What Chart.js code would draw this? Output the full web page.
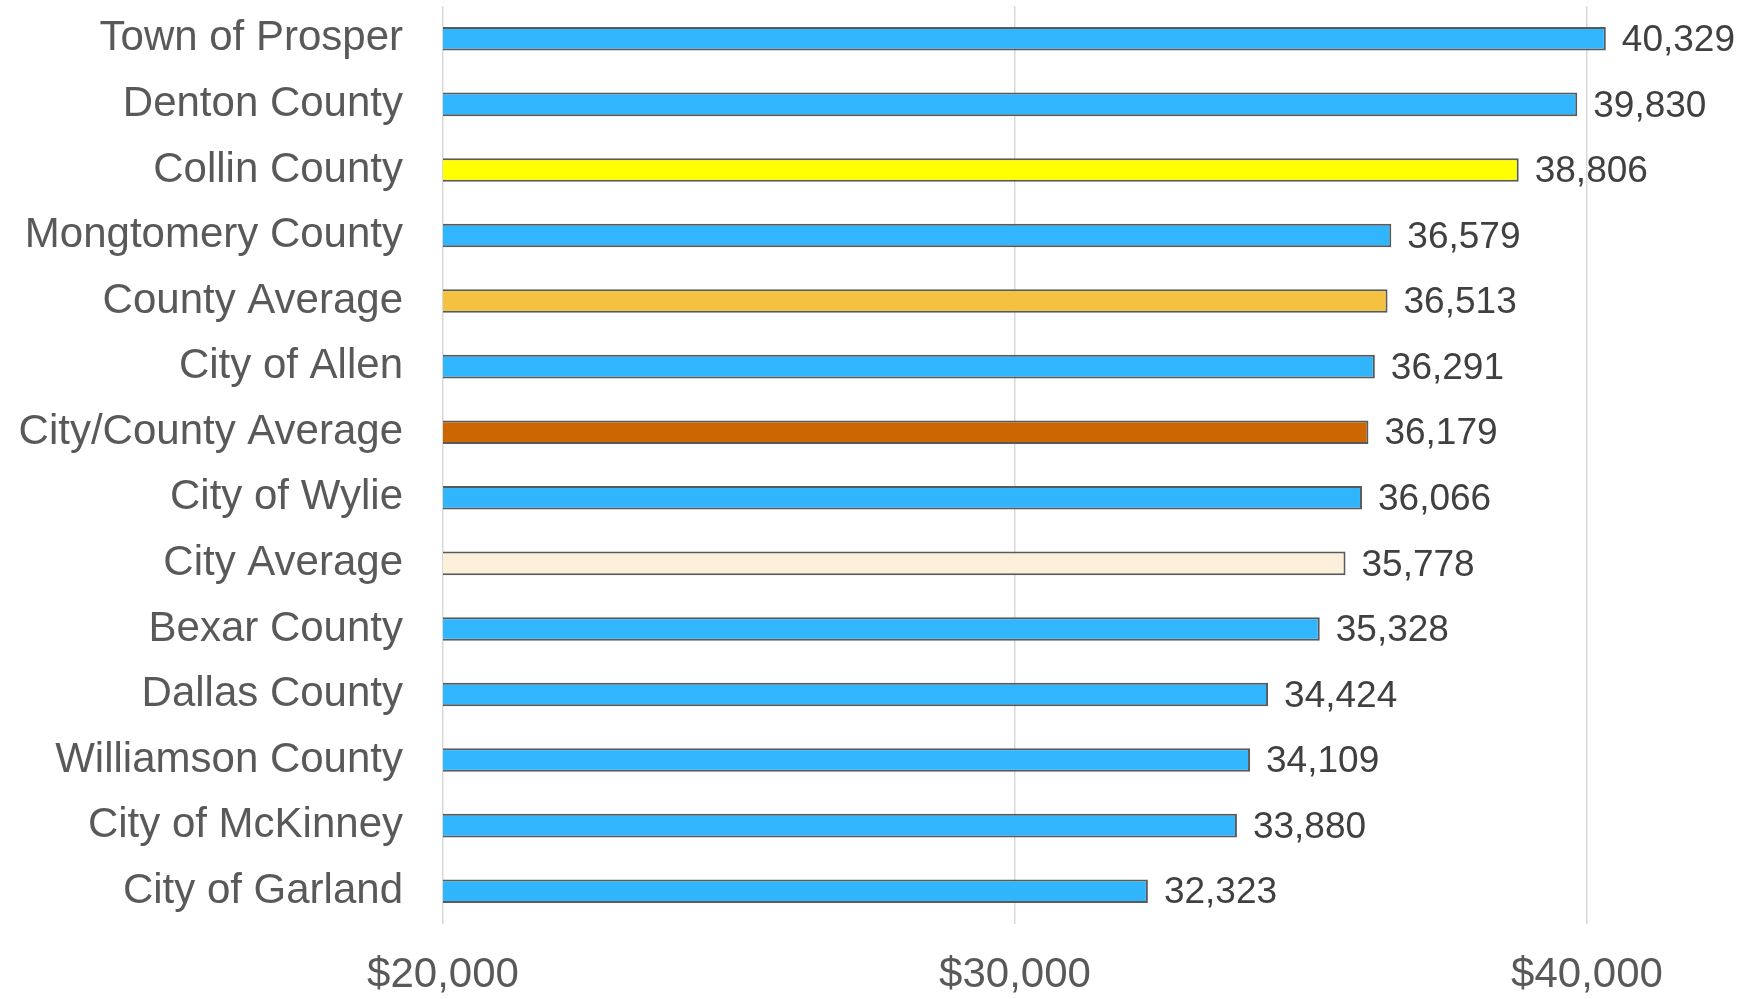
<!DOCTYPE html>
<html>
<head>
<meta charset="utf-8">
<script src="https://cdn.jsdelivr.net/npm/chart.js@4"></script>
<style>
  body { margin: 0; background: #fff; }
  canvas { display: block; }
</style>
</head>
<body>
<canvas id="barChart" width="1744" height="999"></canvas>
<script>
const categories = ['Town of Prosper', 'Denton County', 'Collin County', 'Mongtomery County', 'County Average',
    'City of Allen', 'City/County Average', 'City of Wylie', 'City Average', 'Bexar County',
    'Dallas County', 'Williamson County', 'City of McKinney', 'City of Garland'];
const values = [40329, 39830, 38806, 36579, 36513, 36291, 36179, 36066, 35778, 35328, 34424, 34109, 33880, 32323];
const barColors = ['#31b5fd', '#31b5fd', '#ffff00', '#31b5fd', '#f5c140', '#31b5fd', '#cc6600',
    '#31b5fd', '#fcf0da', '#31b5fd', '#31b5fd', '#31b5fd', '#31b5fd', '#31b5fd'];
const xTicks = [20000, 30000, 40000];

const fontFamily = "'Liberation Sans', Arial, sans-serif";

// draws the value next to the end of each bar
const valueLabels = {
    id: 'valueLabels',
    afterDatasetsDraw(chart) {
        const ctx = chart.ctx;
        const meta = chart.getDatasetMeta(0);
        ctx.save();
        ctx.font = '37px ' + fontFamily;
        ctx.fillStyle = '#404040';
        ctx.textAlign = 'left';
        ctx.textBaseline = 'middle';
        meta.data.forEach((bar, i) => {
            ctx.fillText(values[i].toLocaleString('en-US'), bar.x + 16, bar.y + 2);
        });
        ctx.restore();
    }
};

const ctx = document.getElementById('barChart').getContext('2d');
new Chart(ctx, {
    type: 'bar',
    data: {
        labels: categories,
        datasets: [{
            data: values,
            backgroundColor: barColors,
            borderColor: '#5a5a5a',
            borderWidth: 2,
            borderSkipped: false,
            categoryPercentage: 1,
            barPercentage: 0.36
        }]
    },
    options: {
        indexAxis: 'y',
        responsive: false,
        animation: false,
        layout: {
            padding: { top: 6, right: 14, bottom: 0, left: 0 }
        },
        plugins: {
            legend: { display: false },
            tooltip: { enabled: false }
        },
        scales: {
            x: {
                min: 20000,
                max: 42500,
                afterBuildTicks: scale => {
                    scale.ticks = xTicks.map(v => ({ value: v }));
                },
                afterFit: scale => {
                    scale.height = 75;
                },
                grid: {
                    color: '#d9d9d9',
                    lineWidth: 1.5,
                    drawTicks: false
                },
                border: { display: false },
                ticks: {
                    padding: 26,
                    color: '#595959',
                    font: { size: 42, family: fontFamily },
                    maxRotation: 0,
                    callback: value => '$' + Number(value).toLocaleString('en-US')
                }
            },
            y: {
                afterFit: scale => {
                    scale.width = 443;
                    scale.paddingTop = 0;
                    scale.paddingBottom = 0;
                },
                grid: { display: false, drawTicks: false },
                border: { display: false },
                ticks: {
                    padding: 40,
                    color: '#595959',
                    font: { size: 42, family: fontFamily }
                }
            }
        }
    },
    plugins: [valueLabels]
});
</script>
</body>
</html>
